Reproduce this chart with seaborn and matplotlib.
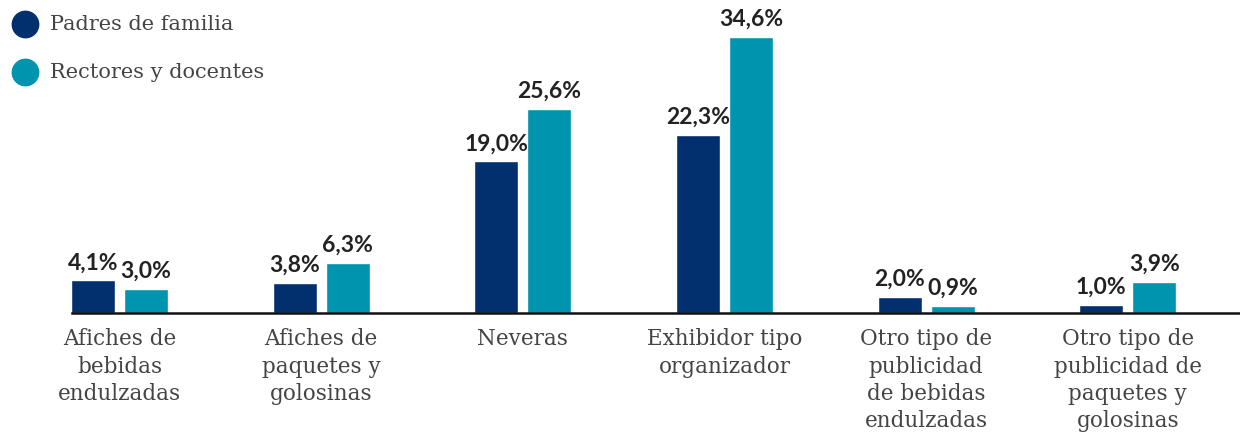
import matplotlib
matplotlib.use("Agg")
import matplotlib.pyplot as plt
import seaborn as sns
import pandas as pd
from matplotlib.lines import Line2D

categories = [
    "Afiches de\nbebidas\nendulzadas",
    "Afiches de\npaquetes y\ngolosinas",
    "Neveras",
    "Exhibidor tipo\norganizador",
    "Otro tipo de\npublicidad\nde bebidas\nendulzadas",
    "Otro tipo de\npublicidad de\npaquetes y\ngolosinas",
]
series_names = ["Padres de familia", "Rectores y docentes"]
padres = [4.1, 3.8, 19.0, 22.3, 2.0, 1.0]
rectores = [3.0, 6.3, 25.6, 34.6, 0.9, 3.9]
colors = ["#02306E", "#0094AE"]

df = pd.DataFrame({
    "cat": categories * 2,
    "serie": [series_names[0]] * len(categories) + [series_names[1]] * len(categories),
    "val": padres + rectores,
})

sns.set_theme(style="white")
plt.rcParams["font.family"] = ["DejaVu Sans"]

fig = plt.figure(figsize=(12.4, 4.33), dpi=100)
ax = fig.add_axes([72 / 1240, (433 - 313) / 433, (1240 - 72) / 1240, 313 / 433])

sns.barplot(data=df, x="cat", y="val", hue="serie", order=categories,
            hue_order=series_names, palette=colors, width=0.525, gap=0.17,
            saturation=1, legend=False, ax=ax, errorbar=None)

ax.set_xlim(-0.236, 5.557)
ax.set_ylim(0, 39.2)

for cont in ax.containers:
    labels = [f"{v:.1f}%".replace(".", ",") for v in cont.datavalues]
    ax.bar_label(cont, labels=labels, padding=5, fontsize=16.5,
                 fontweight="bold", color="#222222", family="Lato")

ax.set_xlabel("")
ax.set_ylabel("")
ax.set_yticks([])
ax.set_xticks(range(len(categories)))
ax.set_xticklabels(categories, family="DejaVu Serif", fontsize=15.5,
                   color="#444444", linespacing=1.31)
ax.tick_params(axis="x", length=0, pad=11)
for s in ["top", "right", "left"]:
    ax.spines[s].set_visible(False)
ax.spines["bottom"].set_color("#111111")
ax.spines["bottom"].set_linewidth(1.8)

# legend
for i, (name, c) in enumerate(zip(series_names, colors)):
    y = 1 - (24 + 48 * i) / 433
    fig.add_artist(Line2D([25 / 1240], [y], marker="o", markersize=19,
                          color=c, linestyle="none", transform=fig.transFigure))
    fig.text(50 / 1240, y, name, family="DejaVu Serif", fontsize=15,
             color="#444444", va="center", ha="left")

fig.savefig("out.png", dpi=100)
